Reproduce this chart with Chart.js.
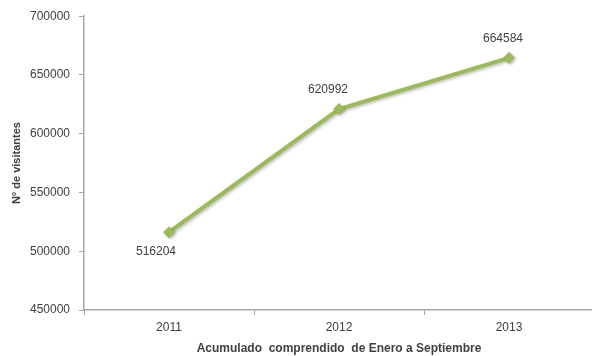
<!DOCTYPE html>
<html>
<head>
<meta charset="utf-8">
<script src="https://cdn.jsdelivr.net/npm/chart.js@4.4.1/dist/chart.umd.min.js"></script>
<style>
  html, body { margin: 0; padding: 0; background: #ffffff; overflow: hidden; }
  #wrap { width: 600px; height: 356px; }
</style>
</head>
<body>
<div id="wrap"><canvas id="visitChart"></canvas></div>
<script>
var years = ['2011', '2012', '2013'];
var visitantes = [516204, 620992, 664584];
var yTicks = [450000, 500000, 550000, 600000, 650000, 700000];

var lineColor = '#9BBB59';
var textColor = '#404040';
var axisColor = '#A6A6A6';
var fontFamily = '"Liberation Sans", Arial, sans-serif';

// etiquetas de valor: la primera debajo del punto, las demas encima
var valueLabels = {
  id: 'valueLabels',
  afterDatasetsDraw(chart) {
    var ctx = chart.ctx;
    var meta = chart.getDatasetMeta(0);
    var shifts = [[-13, 19], [-11, -19], [-6, -19]];
    ctx.save();
    ctx.font = '12px ' + fontFamily;
    ctx.fillStyle = textColor;
    ctx.textAlign = 'center';
    ctx.textBaseline = 'middle';
    meta.data.forEach(function(pt, i) {
      var s = shifts[i] || [0, -19];
      ctx.fillText(String(chart.data.datasets[0].data[i]), pt.x + s[0], pt.y + s[1]);
    });
    ctx.restore();
  }
};

// sombra suave bajo la linea
var lineShadow = {
  id: 'lineShadow',
  beforeDatasetDraw(chart) {
    var ctx = chart.ctx;
    ctx.save();
    ctx.shadowColor = 'rgba(0,0,0,0.25)';
    ctx.shadowBlur = 3;
    ctx.shadowOffsetX = 1.5;
    ctx.shadowOffsetY = 1.5;
  },
  afterDatasetDraw(chart) {
    chart.ctx.restore();
  }
};

var chart = new Chart(document.getElementById('visitChart'), {
  type: 'line',
  data: {
    labels: years,
    datasets: [{
      data: visitantes,
      borderColor: lineColor,
      backgroundColor: lineColor,
      borderWidth: 4,
      pointStyle: 'rectRot',
      pointRadius: 6,
      pointBorderWidth: 0,
      tension: 0,
      fill: false
    }]
  },
  options: {
    responsive: true,
    maintainAspectRatio: false,
    animation: false,
    layout: { padding: { top: 16, right: 0, bottom: 0, left: 0 } },
    plugins: {
      legend: { display: false },
      tooltip: { enabled: false }
    },
    scales: {
      x: {
        type: 'category',
        offset: true,
        grid: {
          offset: true,
          drawOnChartArea: false,
          drawTicks: true,
          tickLength: 5,
          color: axisColor
        },
        border: { color: axisColor, width: 1.5 },
        ticks: {
          color: textColor,
          font: { family: fontFamily, size: 12 },
          padding: 5,
          maxRotation: 0
        },
        title: {
          display: true,
          text: 'Acumulado  comprendido  de Enero a Septiembre',
          color: textColor,
          font: { family: fontFamily, size: 12, weight: 'bold' },
          padding: { top: 0, bottom: 0 }
        },
        afterFit: function(s) { s.height = 46; }
      },
      y: {
        min: 450000,
        max: 700000,
        afterBuildTicks: function(s) {
          s.ticks = yTicks.map(function(v) { return { value: v }; });
        },
        grid: {
          drawOnChartArea: false,
          drawTicks: true,
          tickLength: 5,
          color: axisColor
        },
        border: { color: axisColor, width: 1.5 },
        ticks: {
          color: textColor,
          font: { family: fontFamily, size: 12 },
          padding: 9,
          callback: function(v) { return String(v); }
        },
        title: {
          display: true,
          text: 'N° de visitantes',
          color: textColor,
          font: { family: fontFamily, size: 11, weight: 'bold' },
          padding: { top: 10, bottom: 0 }
        },
        afterFit: function(s) { s.width = 84; }
      }
    }
  },
  plugins: [lineShadow, valueLabels]
});
</script>
</body>
</html>
